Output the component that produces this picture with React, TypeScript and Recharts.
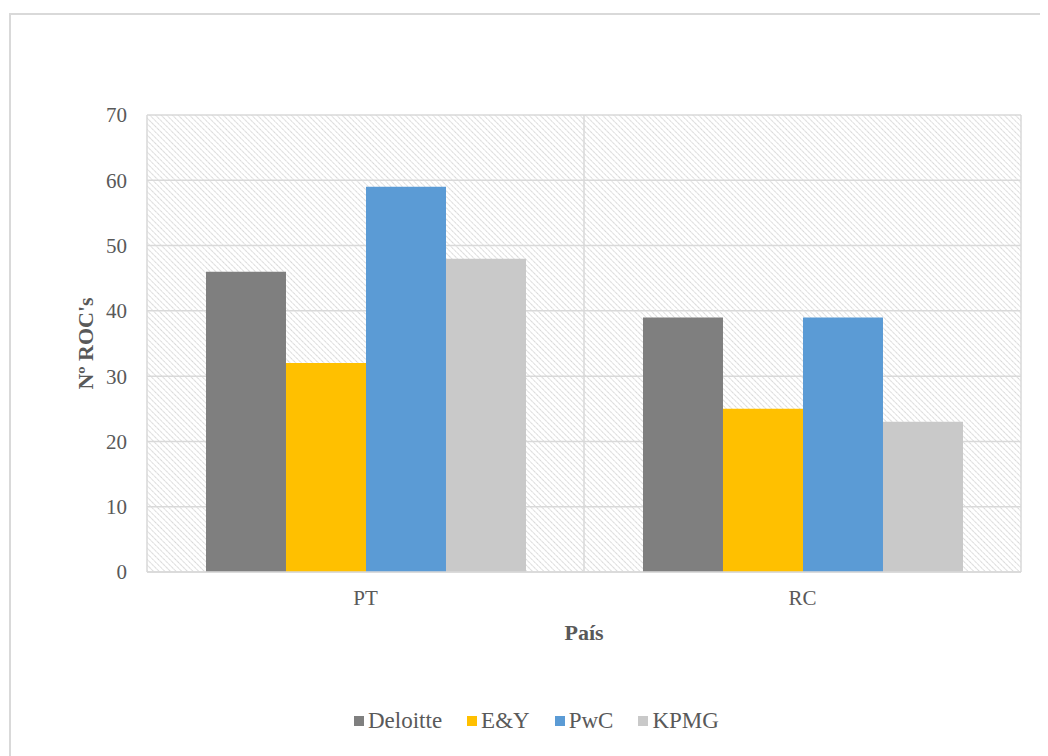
import { BarChart, Bar, XAxis, YAxis, CartesianGrid, Legend } from 'recharts'

const countries = ['PT', 'RC']
const deloitte = [46, 39]
const ey = [32, 25]
const pwc = [59, 39]
const kpmg = [48, 23]
const yTicks = [0, 10, 20, 30, 40, 50, 60, 70]

const series = [
  { key: 'Deloitte', values: deloitte, color: '#7f7f7f' },
  { key: 'E&Y', values: ey, color: '#ffc000' },
  { key: 'PwC', values: pwc, color: '#5b9bd5' },
  { key: 'KPMG', values: kpmg, color: '#c9c9c9' },
]

const data = countries.map((name, i) => {
  const row: Record<string, string | number> = { name }
  series.forEach((s) => { row[s.key] = s.values[i] })
  return row
})

const FONT = '"Liberation Serif", "DejaVu Serif", serif'
const TEXT = '#595959'

const LegendBox = () => (
  <div style={{ display: 'flex', alignItems: 'center', fontFamily: FONT, fontSize: 23, color: TEXT }}>
    {series.map((s) => (
      <div key={s.key} style={{ display: 'flex', alignItems: 'center', marginRight: 25 }}>
        <span style={{ width: 10, height: 10, background: s.color, display: 'inline-block', marginRight: 4 }} />
        <span>{s.key}</span>
      </div>
    ))}
  </div>
)

export default function App() {
  return (
    <div style={{ position: 'relative', width: 1040, height: 748, overflow: 'hidden', background: '#fff' }}>
      <div style={{ position: 'absolute', left: 1, top: 5, width: 1100, height: 800, borderTop: '2px solid #d9d9d9', borderLeft: '2px solid #d9d9d9' }} />
      <div style={{ position: 'absolute', left: 0, top: 0 }}>
        <BarChart
          width={1040}
          height={748}
          data={data}
          margin={{ top: 107, right: 27, left: 0, bottom: 100 }}
          barCategoryGap="13.5%"
          barGap={0}
        >
          <defs>
            <pattern id="hatch" width="4" height="4" patternUnits="userSpaceOnUse" patternTransform="rotate(-45)">
              <line x1="0" y1="0" x2="0" y2="4" stroke="#cfcfcf" strokeWidth="1.7" strokeDasharray="1.5 0.8" />
            </pattern>
          </defs>
          <CartesianGrid
            fill="url(#hatch)"
            fillOpacity={1}
            stroke="#d9d9d9"
            strokeWidth={1.5}
            verticalCoordinatesGenerator={({ offset }: any) => [
              offset.left,
              offset.left + offset.width / 2,
              offset.left + offset.width,
            ]}
          />
          <XAxis
            dataKey="name"
            height={84}
            tickLine={false}
            tickSize={0}
            tickMargin={18}
            axisLine={{ stroke: '#d9d9d9', strokeWidth: 1.5 }}
            tick={{ fill: TEXT, fontFamily: FONT, fontSize: 21 }}
            label={{ value: 'País', position: 'insideBottom', offset: 16, fill: TEXT, fontFamily: FONT, fontSize: 22, fontWeight: 'bold' }}
          />
          <YAxis
            width={139}
            domain={[0, 70]}
            ticks={yTicks}
            interval={0}
            axisLine={false}
            tickLine={false}
            tickSize={0}
            tickMargin={20}
            tick={{ fill: TEXT, fontFamily: FONT, fontSize: 21 }}
            label={{ value: "Nº ROC's", angle: -90, position: 'insideLeft', offset: 77, fill: TEXT, fontFamily: FONT, fontSize: 22, fontWeight: 'bold', style: { textAnchor: 'middle' } }}
          />
          <Legend verticalAlign="middle" wrapperStyle={{ top: 700, left: 346, width: 'auto' }} content={() => <LegendBox />} />
          {series.map((s) => (
            <Bar key={s.key} dataKey={s.key} fill={s.color} isAnimationActive={false} />
          ))}
        </BarChart>
      </div>
    </div>
  )
}
